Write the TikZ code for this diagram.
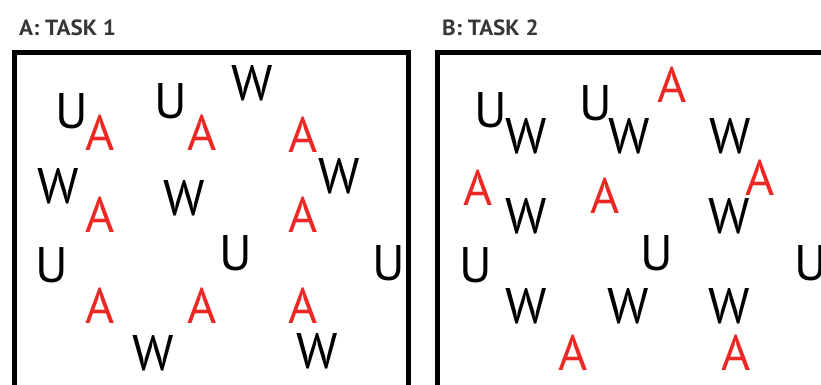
\documentclass[tikz,border=0pt]{standalone}
\usepackage{fontspec}
\setmainfont{PT Sans}
\usepackage{xcolor}
\usetikzlibrary{positioning}

\definecolor{letterred}{RGB}{235,40,35}
\definecolor{titlegray}{RGB}{55,55,55}

\begin{document}
\begin{tikzpicture}[
    x=1pt,
    y=-1pt,
    every node/.style={inner sep=0pt, anchor=base},
    letter/.style={font=\fontsize{50}{50}\selectfont},
    redletter/.style={letter, text=letterred},
    panel title/.style={anchor=base west, text=titlegray, font=\fontsize{22}{22}\selectfont\bfseries},
    frame/.style={draw=black, line width=5pt}
]
    \useasboundingbox (0,0) rectangle (821,384);

    % Panel frames (bottom and right run off the picture)
    \draw[frame] (14.5,400) -- (14.5,52) -- (408.5,52) -- (408.5,400);
    \draw[frame] (437.5,400) -- (437.5,52) -- (840,52);

    % Titles
    \node[panel title, xscale=1.05] (titleA) at (19,35) {A: TASK 1};
    \node[panel title, xscale=1.05] (titleB) at (442,35) {B: TASK 2};

    % Define nodes: task 1
    \node[letter]    (a_u1) at (72,128)  {U};
    \node[redletter] (a_a1) at (100,150) {A};
    \node[letter]    (a_u2) at (171,118) {U};
    \node[redletter] (a_a2) at (202,150) {A};
    \node[letter]    (a_w1) at (252,100) {W};
    \node[redletter] (a_a3) at (303,152) {A};
    \node[letter]    (a_w2) at (339,193) {W};
    \node[letter]    (a_w3) at (58,203)  {W};
    \node[letter]    (a_w4) at (184,215) {W};
    \node[redletter] (a_a4) at (100,232) {A};
    \node[redletter] (a_a5) at (303,232) {A};
    \node[letter]    (a_u3) at (52,282)  {U};
    \node[letter]    (a_u4) at (236,270) {U};
    \node[letter]    (a_u5) at (389,280) {U};
    \node[redletter] (a_a6) at (100,323) {A};
    \node[redletter] (a_a7) at (202,323) {A};
    \node[redletter] (a_a8) at (303,323) {A};
    \node[letter]    (a_w5) at (153,370) {W};
    \node[letter]    (a_w6) at (317,368) {W};

    % Define nodes: task 2
    \node[letter]    (b_u1) at (491,127) {U};
    \node[letter]    (b_w1) at (526,153) {W};
    \node[letter]    (b_u2) at (596,120) {U};
    \node[letter]    (b_w2) at (629,153) {W};
    \node[redletter] (b_a1) at (672,102) {A};
    \node[letter]    (b_w3) at (730,153) {W};
    \node[redletter] (b_a2) at (478,205) {A};
    \node[redletter] (b_a3) at (605,213) {A};
    \node[redletter] (b_a4) at (760,195) {A};
    \node[letter]    (b_w4) at (526,233) {W};
    \node[letter]    (b_w5) at (729,233) {W};
    \node[letter]    (b_u3) at (476,282) {U};
    \node[letter]    (b_u4) at (657,270) {U};
    \node[letter]    (b_u5) at (811,280) {U};
    \node[letter]    (b_w6) at (526,323) {W};
    \node[letter]    (b_w7) at (628,323) {W};
    \node[letter]    (b_w8) at (729,323) {W};
    \node[redletter] (b_a5) at (573,370) {A};
    \node[redletter] (b_a6) at (736,370) {A};
\end{tikzpicture}
\end{document}
